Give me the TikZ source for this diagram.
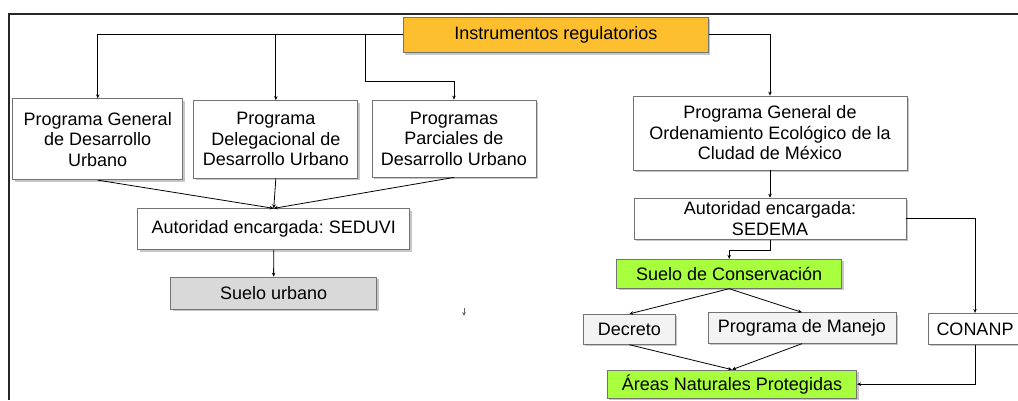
\documentclass[tikz,border=0pt]{standalone}
\usepackage{fontspec}
\setmainfont{Liberation Sans}
\usetikzlibrary{arrows.meta,shadows}
\definecolor{orangebox}{HTML}{FDBF2D}
\definecolor{greenbox}{HTML}{A8FF3E}
\definecolor{graybox}{HTML}{D9D9D9}
\definecolor{lightbox}{HTML}{F3F3F3}
\frenchspacing
\begin{document}
\begin{tikzpicture}[x=1pt,y=-1pt,
  box/.style={draw=black!55, line width=0.8pt, fill=white, inner sep=0pt, align=center,
    font=\fontsize{18}{20.5}\selectfont,
    drop shadow={shadow xshift=2pt, shadow yshift=-2pt, fill=black!22, opacity=1}},
  arr/.style={-{Stealth[length=4pt,width=3.5pt]}, line width=0.8pt, black},
  frame/.style={line width=2pt, black!85}]
\useasboundingbox (0,0) rectangle (1018,400);
\fill[white] (0,0) rectangle (1018,400);
\draw[frame] (1018,13.5) -- (8.5,13.5) -- (8.5,400);

% nodes
\node[box, fill=orangebox, minimum width=305pt, minimum height=35.5pt] (inst) at (555.9,34.75) {Instrumentos regulatorios};
\node[box, minimum width=170pt, minimum height=81pt] (pg1) at (97.75,139.25) {Programa General\\de Desarrollo\\Urbano};
\node[box, minimum width=164pt, minimum height=77.5pt] (pg2) at (275.85,139.25) {Programa\\Delegacional de\\Desarrollo Urbano};
\node[box, minimum width=164pt, minimum height=77pt] (pg3) at (454,138.5) {Programas\\Parciales de\\Desarrollo Urbano};
\node[box, minimum width=274pt, minimum height=74pt] (pgo) at (770,133) {Programa General de\\Ordenamiento Ecológico de la\\Cludad de México};
\node[box, minimum width=272pt, minimum height=41pt] (sed1) at (273.75,229.25) {Autoridad encargada: SEDUVI};
\node[box, fill=graybox, minimum width=206pt, minimum height=32pt] (su) at (273.6,293.1) {Suelo urbano};
\node[box, minimum width=272pt, minimum height=41pt] (sed2) at (770,218.6) {Autoridad encargada:\\SEDEMA};
\node[box, fill=greenbox, minimum width=225pt, minimum height=29pt] (sc) at (729.2,273.8) {Suelo de Conservación};
\node[box, fill=lightbox, minimum width=92pt, minimum height=30pt] (dec) at (629.3,329.3) {Decreto};
\node[box, fill=lightbox, minimum width=188pt, minimum height=30.6pt] (pm) at (801.9,328) {Programa de Manejo};
\node[box, minimum width=94pt, minimum height=31pt] (con) at (975,328.8) {CONANP};
\node[box, fill=greenbox, minimum width=249.4pt, minimum height=28.3pt] (anp) at (732,384.2) {Áreas Naturales Protegidas};

% helper coordinates
\coordinate (j3) at (365.7,34.75);
\coordinate (j3b) at (365.7,80.9);
\coordinate (sa) at (464,308);
\coordinate (sb) at (464,316);

% connectors
\draw[arr] (inst.west) -| (pg1.north);
\draw[arr] (inst.west) -| (pg2.north);
\draw[arr] (j3) -- (j3b) -| (pg3.north);
\draw[arr] (inst.east) -| (pgo.north);
\draw[arr] (pg1.south) -- (sed1.north);
\draw[arr] (pg2.south) -- (sed1.north);
\draw[arr] (pg3.south) -- (sed1.north);
\draw[arr] (sed1.south) -- (su.north);
\draw[arr] (pgo.south) -- (sed2.north);
\draw[arr] (sed2.south) -- ++(0,11) -| (sc.north);
\draw[arr] (sc.south) -- (dec.north);
\draw[arr] (sc.south) -- (pm.north);
\draw[arr] (dec.south) -- (anp.north);
\draw[arr] (pm.south) -- (anp.north);
\draw[arr] (sed2.east) -| (con.north);
\draw[arr] (con.south) |- (anp.east);
\draw[arr, black!60, line width=0.6pt] (sa) -- (sb);
\end{tikzpicture}
\end{document}
